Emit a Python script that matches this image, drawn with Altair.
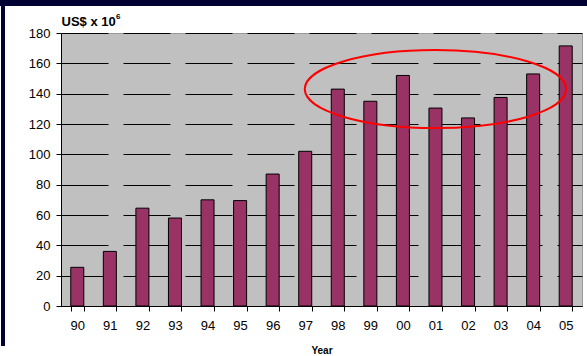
import altair as alt
import pandas as pd

years = ["90", "91", "92", "93", "94", "95", "96", "97", "98", "99",
         "00", "01", "02", "03", "04", "05"]
values = [25.5, 36, 64.5, 58, 70, 69.5, 87, 102, 143, 135,
          152, 130.5, 124, 137.5, 153, 171.5]

# highlight annotation (ellipse) anchored at a category / value
ann_year = ["01"]
ann_value = [143]

df = pd.DataFrame({"Year": years, "Value": values})
ann = pd.DataFrame({"Year": ann_year, "Value": ann_value})

FONT = "Liberation Sans"
W, H = 521, 273

xaxis = alt.Axis(labelAngle=0, labelFontSize=13, labelFont=FONT,
                 labelColor="black", tickBand="extent", tickSize=5,
                 tickColor="black", domainColor="black",
                 labelPadding=8, titleFont=FONT, titleFontSize=10,
                 titleFontWeight="bold", titleColor="black",
                 titlePadding=13, grid=False)
yaxis = alt.Axis(values=[0, 20, 40, 60, 80, 100, 120, 140, 160, 180],
                 tickCount=10, labelFontSize=13,
                 labelFont=FONT, labelColor="black", tickSize=5,
                 tickColor="black", domainColor="black",
                 labelOverlap=False,
                 labelPadding=6, grid=True, gridColor="black",
                 gridDash=[47, 15], gridWidth=1,
                 titleAngle=0, titleAlign="left", titleX=0,
                 titleY=-8, titleBaseline="alphabetic",
                 titleFont=FONT, titleFontSize=13,
                 titleFontWeight="bold", titleColor="black")

xenc = alt.X("Year:N", sort=years, title="Year",
             scale=alt.Scale(paddingInner=0.6, paddingOuter=0.3), axis=xaxis)
yenc = alt.Y("Value:Q", title="US$ x 10",
             scale=alt.Scale(domain=[0, 180], nice=False), axis=yaxis)

bars = alt.Chart(df).mark_bar(
    color="#993366", stroke="black", strokeWidth=1
).encode(x=xenc, y=yenc)

k = 0.2984
c = 0.5523 * k
ellipse_path = (
    f"M-1,0 C-1,{-c} -0.5523,{-k} 0,{-k} "
    f"C0.5523,{-k} 1,{-c} 1,0 "
    f"C1,{c} 0.5523,{k} 0,{k} "
    f"C-0.5523,{k} -1,{c} -1,0 Z"
)

ellipse = alt.Chart(ann).mark_point(
    shape=ellipse_path, filled=False, stroke="#ff0000", strokeWidth=2,
    size=261.4 ** 2, opacity=1, dx=-3
).encode(x=xenc, y=yenc)

sup = alt.Chart(ann).mark_text(
    text="6", font=FONT, fontSize=8, fontWeight="bold", color="black",
    align="left", baseline="alphabetic"
).encode(x=alt.value(55), y=alt.value(-14))

frame_top = alt.Chart(ann).mark_rect(color="#000033").encode(
    x=alt.value(-61), x2=alt.value(W + 5), y=alt.value(-33), y2=alt.value(-27))
frame_left = alt.Chart(ann).mark_rect(color="#000033").encode(
    x=alt.value(-60), x2=alt.value(-56), y=alt.value(-27), y2=alt.value(H + 40))

chart = alt.layer(bars, ellipse, sup, frame_top, frame_left).properties(
    width=W, height=H,
    autosize=alt.AutoSizeParams(type="none"),
    padding={"left": 61, "top": 33, "right": 5, "bottom": 50},
    background="white",
).configure_view(
    fill="#c0c0c0", stroke="#999999", strokeWidth=1
)

chart.save("out.html", embed_options={"renderer": "svg", "actions": False})
